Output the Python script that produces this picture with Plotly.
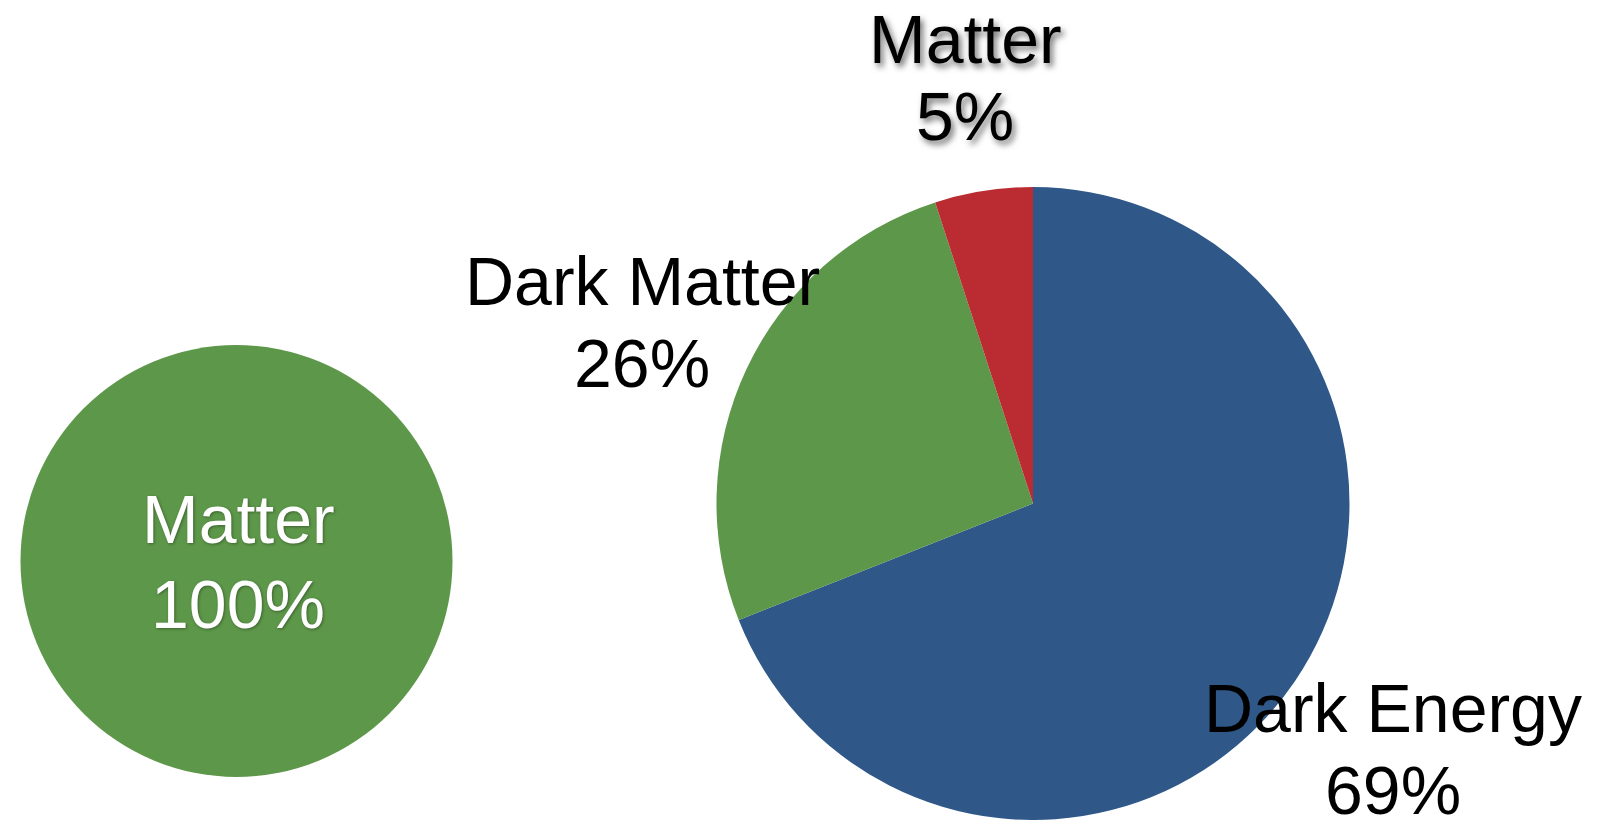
import plotly.graph_objects as go

# Early universe: all matter
early_labels = ["Matter"]
early_values = [100]

# Present-day universe composition (%)
today_labels = ["Dark Energy", "Dark Matter", "Matter"]
today_values = [69, 26, 5]

GREEN = "#5D9749"
BLUE = "#2F5889"
RED = "#BA2C31"

W, H = 1607, 820

fig = go.Figure()

fig.add_trace(go.Pie(
    labels=early_labels, values=early_values,
    marker=dict(colors=[GREEN], line=dict(width=0)),
    textinfo="none", sort=False, hoverinfo="label+percent",
    domain=dict(x=[20 / W, 453 / W], y=[1 - 777 / H, 1 - 345 / H]),
    showlegend=False,
))

fig.add_trace(go.Pie(
    labels=today_labels, values=today_values,
    marker=dict(colors=[BLUE, GREEN, RED], line=dict(width=0)),
    textinfo="none", sort=False, direction="clockwise", rotation=0,
    hoverinfo="label+percent",
    domain=dict(x=[716 / W, 1350 / W], y=[0, 1 - 187 / H]),
    showlegend=False,
))

FONT = "Liberation Sans, Arial, Helvetica, sans-serif"
SIZE = 68


def label(name, value, cx, base1, base2, color="black", shadow="none"):
    """Two-line label (name, value%) centred at cx with given baselines (px from top)."""
    for txt, base in ((name, base1), (f"{value}%", base2)):
        fig.add_annotation(
            x=cx / W, y=1 - (base - 0.36 * SIZE) / H,
            xref="paper", yref="paper", xanchor="center", yanchor="middle",
            text=txt, showarrow=False,
            font=dict(family=FONT, size=SIZE, color=color, shadow=shadow),
        )


label(early_labels[0], early_values[0], 238, 543, 628, color="white",
      shadow="1px 1px 3px rgba(0,0,0,0.35)")
label(today_labels[0], today_values[0], 1393, 732, 814)
label(today_labels[1], today_values[1], 642, 305, 387)
label(today_labels[2], today_values[2], 965, 63, 140,
      shadow="3px 4px 6px rgba(0,0,0,0.55)")

fig.update_layout(
    width=W, height=H,
    margin=dict(l=0, r=0, t=0, b=0),
    paper_bgcolor="white", plot_bgcolor="white",
)

fig.write_html("out.html")
